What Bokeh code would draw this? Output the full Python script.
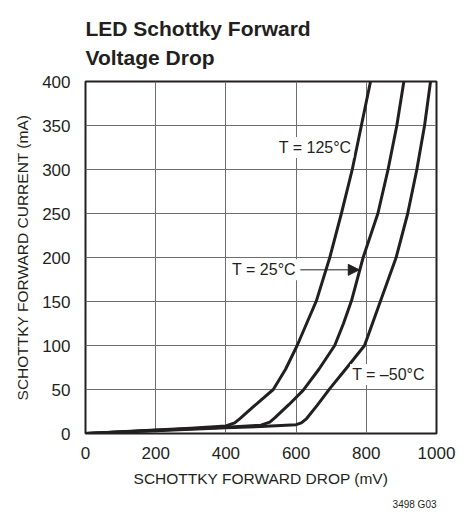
from bokeh.plotting import figure
from bokeh.models import Range1d, Label, Arrow, NormalHead, FixedTicker, Title
from bokeh.embed import file_html
from bokeh.resources import INLINE

# ---- data ----
x_ticks = [0, 200, 400, 600, 800, 1000]
y_ticks = [0, 50, 100, 150, 200, 250, 300, 350, 400]

t125_mv = [0, 100, 200, 300, 400, 425, 440, 480, 535, 570, 603, 630, 658, 696, 729, 760, 786, 812]
t125_ma = [0, 2, 4, 6, 8.5, 12, 17, 31, 50, 73, 100, 125, 151, 200, 250, 300, 350, 400]

t25_mv = [0, 100, 200, 300, 400, 500, 525, 540, 580, 620, 665, 710, 735, 758, 791, 833, 862, 887, 907]
t25_ma = [0, 1.8, 3.6, 5.4, 7.2, 9.5, 13, 18, 33, 49, 73, 100, 125, 151, 200, 250, 300, 350, 400]

tm50_mv = [0, 100, 200, 300, 400, 500, 600, 615, 630, 660, 696, 745, 795, 830, 885, 918, 944, 966, 983]
tm50_ma = [0, 1.6, 3.2, 4.8, 6.4, 8, 10, 12, 17, 32, 51, 75, 100, 139, 200, 250, 300, 350, 400]

title_text = "LED Schottky Forward\nVoltage Drop"
x_label = "SCHOTTKY FORWARD DROP (mV)"
y_label = "SCHOTTKY FORWARD CURRENT (mA)"
curve_labels = ["T = 125°C", "T = 25°C", "T = \u201350°C"]
note = "3498 G03"

FONT = "Liberation Sans"
INK = "#231f20"

p = figure(width=473, height=517, output_backend="svg", toolbar_location=None,
           x_range=Range1d(0, 1000), y_range=Range1d(0, 400),
           min_border_left=85, min_border_right=37, min_border_top=81, min_border_bottom=84,
           background_fill_color="white", border_fill_color="white")

p.outline_line_color = INK
p.outline_line_width = 2

for ax in (p.xaxis[0], p.yaxis[0]):
    ax.axis_line_color = None
    ax.major_tick_line_color = None
    ax.minor_tick_line_color = None
    ax.major_label_text_font = FONT
    ax.major_label_text_font_size = "17px"
    ax.major_label_text_color = INK
    ax.axis_label_text_font = FONT
    ax.axis_label_text_font_size = "15.5px"
    ax.axis_label_text_font_style = "normal"
    ax.axis_label_text_color = INK

p.xaxis.ticker = FixedTicker(ticks=x_ticks)
p.yaxis.ticker = FixedTicker(ticks=y_ticks)
p.xaxis.major_label_standoff = 7
p.yaxis.major_label_standoff = 9
p.xaxis.axis_label = x_label
p.yaxis.axis_label = y_label
p.xaxis.axis_label_standoff = 8
p.yaxis.axis_label_standoff = 8

p.grid.grid_line_color = "#6d6e71"
p.grid.grid_line_width = 1
p.xgrid.ticker = FixedTicker(ticks=x_ticks)
p.ygrid.ticker = FixedTicker(ticks=y_ticks)

for xs, ys in ((t125_mv, t125_ma), (t25_mv, t25_ma), (tm50_mv, tm50_ma)):
    p.line(xs, ys, line_color=INK, line_width=3, line_join="round", line_cap="round")

def lab(x, y, text):
    p.add_layout(Label(x=x, y=y, text=text, text_font=FONT, text_font_size="16px",
                       text_align="left", text_baseline="middle", text_color=INK,
                       background_fill_color="white", padding=2))

lab(545, 325, curve_labels[0])
lab(412, 186, curve_labels[1])
lab(754, 67, curve_labels[2])

p.add_layout(Arrow(x_start=612, y_start=186, x_end=780, y_end=186,
                   line_color=INK, line_width=1,
                   end=NormalHead(size=11, fill_color=INK, line_color=INK)))

p.add_layout(Title(text=title_text, align="left", text_font=FONT, text_font_size="21px",
                   text_font_style="bold", text_color=INK, standoff=25,
                   text_line_height=1.25), "above")

p.add_layout(Title(text=note, align="right", text_font=FONT, text_font_size="10px",
                   text_font_style="normal", text_color=INK, standoff=15), "below")

open("out.html", "w").write(file_html(p, INLINE))
